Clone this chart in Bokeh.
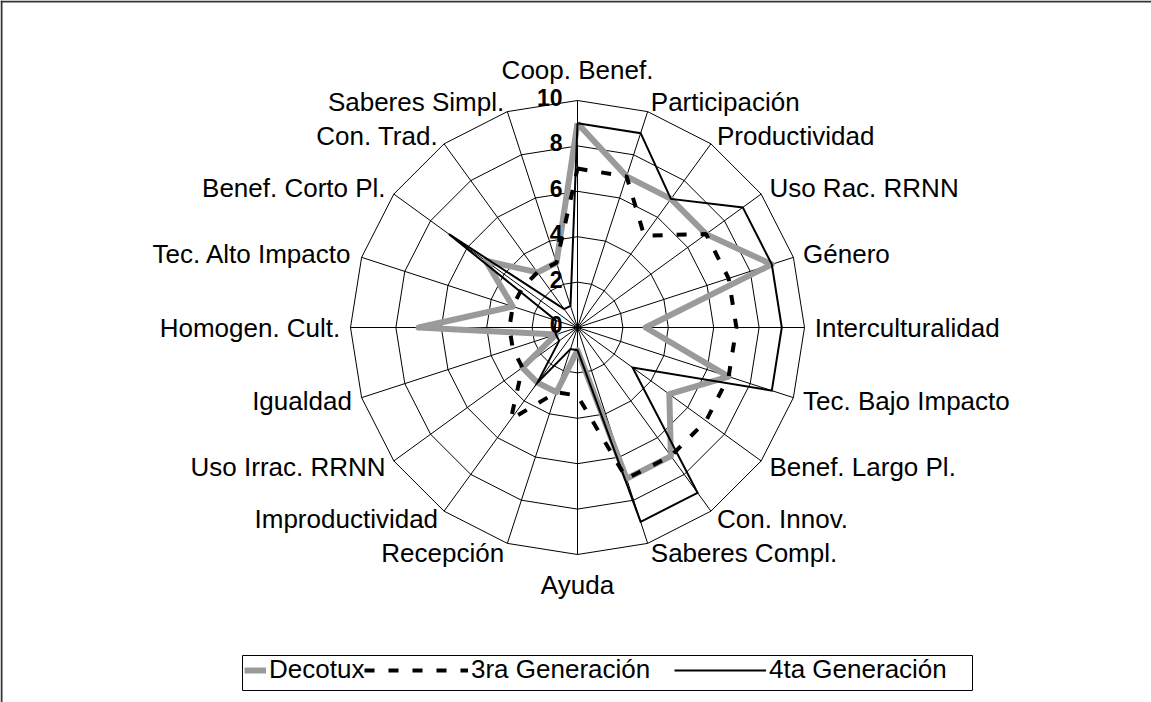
import numpy as np
from bokeh.plotting import figure
from bokeh.models import Range1d, Legend, LegendItem
from bokeh.core.properties import value
from bokeh.embed import file_html
from bokeh.resources import INLINE

categories = ["Coop. Benef.", "Participación", "Productividad", "Uso Rac. RRNN", "Género",
              "Interculturalidad", "Tec. Bajo Impacto", "Benef. Largo Pl.", "Con. Innov.",
              "Saberes Compl.", "Ayuda", "Recepción", "Improductividad", "Uso Irrac. RRNN",
              "Igualdad", "Homogen. Cult.", "Tec. Alto Impacto", "Benef. Corto Pl.",
              "Con. Trad.", "Saberes Simpl."]
decotux = [9, 7, 7, 7, 9, 3, 7, 5, 7, 7, 1, 3, 3, 3, 1, 7, 3, 5, 3, 3]
tercera = [7, 7, 5, 7, 7, 7, 7, 7, 7, 7, 3, 3, 5, 3, 3, 3, 3, 3, 3, 3]
cuarta = [9, 9, 7, 9, 9, 9, 9, 3, 9, 9, 1, 1, 3, 1, 1, 1, 1, 7, 1, 1]
ticks = [0, 2, 4, 6, 8, 10]
series_names = ["Decotux", "3ra Generación", "4ta Generación"]

FONT = "Liberation Sans"
W, H = 1151, 702
cx, cy = 577, 327          # radar centre in canvas pixels
s = 22.7                   # pixels per unit of value
rmax = ticks[-1]

n = len(categories)
ang = np.arange(n) * 2 * np.pi / n      # clockwise from the top
ux, uy = np.sin(ang), np.cos(ang)


def px(x):
    return (x - cx) / s


def py(y):
    return (cy - y) / s


p = figure(width=W, height=H, x_range=Range1d(px(0), px(W)), y_range=Range1d(py(H), py(0)),
           output_backend="svg", toolbar_location=None, x_axis_type=None, y_axis_type=None,
           min_border=0)
p.grid.visible = False
p.outline_line_color = None
p.background_fill_color = "white"
p.border_fill_color = "white"

# outer chart frame (top and left edges)
p.segment(x0=[px(0), px(1)], y0=[py(1), py(0)], x1=[px(W), px(1)], y1=[py(1), py(H)],
          line_color="#333333", line_width=2)

# polygonal grid rings and spokes
ring_xs, ring_ys = [], []
for t in ticks[1:]:
    ring_xs.append(list(t * ux) + [t * ux[0]])
    ring_ys.append(list(t * uy) + [t * uy[0]])
p.multi_line(ring_xs, ring_ys, line_color="black", line_width=1)
p.segment(x0=np.zeros(n), y0=np.zeros(n), x1=rmax * ux, y1=rmax * uy,
          line_color="black", line_width=1)


def closed(vals):
    v = np.asarray(vals, dtype=float)
    xs = v * ux
    ys = v * uy
    return list(xs) + [xs[0]], list(ys) + [ys[0]]


x1, y1 = closed(decotux)
r1 = p.line(x1, y1, line_color="#9a9a9a", line_width=6, line_join="round")
x2, y2 = closed(tercera)
r2 = p.line(x2, y2, line_color="black", line_width=4, line_dash="10 14")
x3, y3 = closed(cuarta)
r3 = p.line(x3, y3, line_color="black", line_width=2, line_join="miter")

# value labels along the top spoke
p.text(x=[px(562)] * len(ticks), y=[t + 3 / s for t in ticks], text=[str(t) for t in ticks],
       text_align="right", text_baseline="middle", text_font=value(FONT),
       text_font_size="23px", text_font_style="bold", text_color="black")

# category labels
groups = {"left": ([], [], []), "right": ([], [], []), "center": ([], [], [])}
for i, name in enumerate(categories):
    if abs(ux[i]) < 0.01:
        r = 11.35
        g = "center"
    else:
        r = 10.45
        g = "left" if ux[i] > 0 else "right"
    groups[g][0].append(r * ux[i])
    groups[g][1].append(r * uy[i])
    groups[g][2].append(name)
for align, (gx, gy, gt) in groups.items():
    p.text(x=gx, y=gy, text=gt, text_align=align, text_baseline="middle",
           text_font=value(FONT), text_font_size="26px", text_color="black")

# legend frame
p.quad(left=[px(242)], right=[px(972)], top=[py(655)], bottom=[py(690)],
       fill_color=None, line_color="black", line_width=1)

legend_specs = [
    (series_names[0], r1, 244, 22),
    (series_names[1], r2, 364, 104),
    (series_names[2], r3, 674, 92),
]
for label, rend, x0, gw in legend_specs:
    leg = Legend(items=[LegendItem(label=label, renderers=[rend])],
                 location=(x0, H - 690 + 5), orientation="horizontal",
                 glyph_width=gw, glyph_height=24, label_height=24, label_standoff=3,
                 padding=0, margin=0, spacing=0,
                 border_line_color=None, background_fill_alpha=0,
                 label_text_font=FONT, label_text_font_size="26px",
                 label_text_color="black")
    p.add_layout(leg)

open("out.html", "w").write(file_html(p, INLINE))
